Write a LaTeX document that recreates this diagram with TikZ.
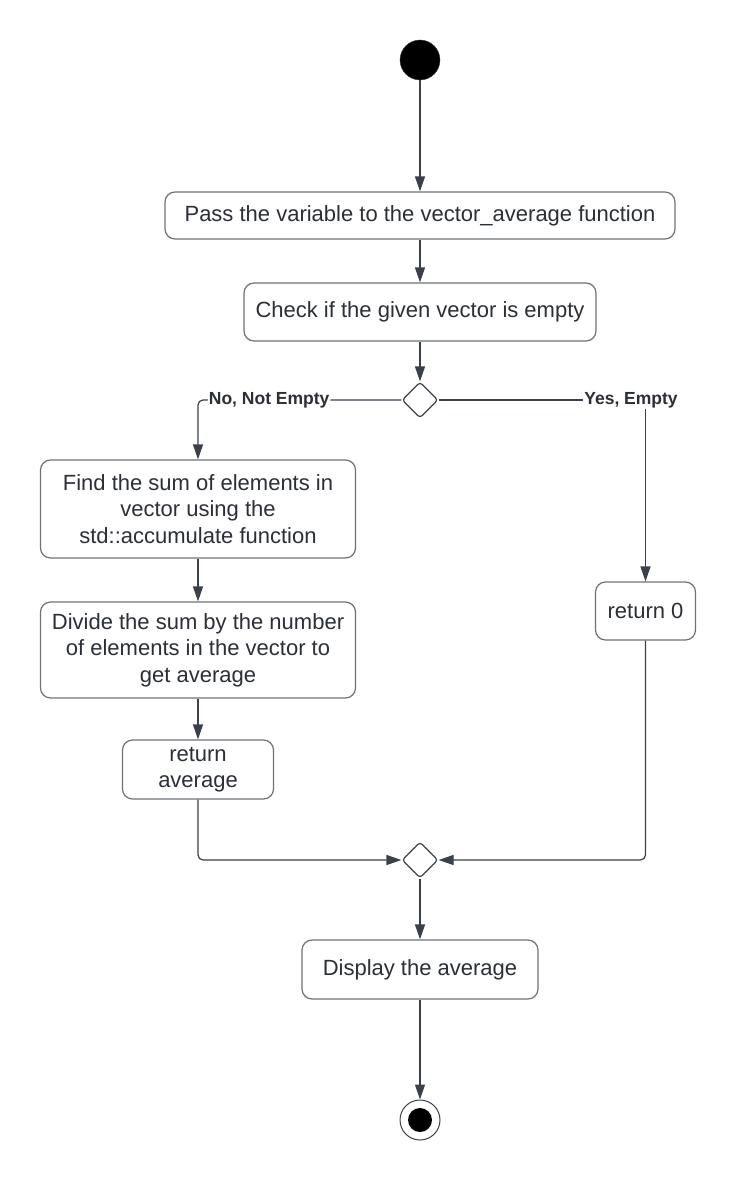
\documentclass[tikz,border=0pt]{standalone}
\usepackage{fontspec}
\setmainfont{Liberation Sans}
\usetikzlibrary{shapes.geometric,arrows.meta}
\definecolor{txt}{HTML}{2B2F36}
\definecolor{edge}{HTML}{6E7278}
\definecolor{wire}{HTML}{3B414A}
\tikzstyle{act} = [draw=edge, line width=1.2pt, rounded corners=10pt, text=txt, align=center, inner sep=0pt, font={\fontsize{22}{26.5}\selectfont}]
\tikzstyle{dec} = [draw=wire, line width=1.2pt, diamond, minimum width=36pt, minimum height=36pt, inner sep=0pt, rounded corners=3pt]
\tikzstyle{flow} = [draw=wire, line width=1.2pt, -{Triangle[length=15pt,width=10pt]}]
\tikzstyle{guard} = [fill=white, text=txt, inner sep=1pt, font={\bfseries\fontsize{17.5}{20}\selectfont}]

\begin{document}
\begin{tikzpicture}[x=1pt,y=-1pt]
    \fill[white] (0,0) rectangle (736,1180);
    \node[circle,fill=black,draw=wire,minimum size=40pt,inner sep=0pt](start) at (420,60){};
    \node[act,minimum width=510pt,minimum height=47pt](pass) at (420,215.5){Pass the variable to the vector\_average function};
    \node[act,minimum width=352pt,minimum height=58pt](check) at (420,312){Check if the given vector is empty};
    \node[dec](split) at (420,400){};
    \node[act,minimum width=315pt,minimum height=98pt](sum) at (198,509){Find the sum of elements in\\vector using the\\std::accumulate function};
    \node[act,minimum width=315pt,minimum height=96pt](divide) at (198,650){Divide the sum by the number\\of elements in the vector to\\get average};
    \node[act,minimum width=151pt,minimum height=59pt](ret) at (198,769.5){return\\average};
    \node[act,minimum width=100pt,minimum height=58pt](zero) at (645.5,611){return 0};
    \node[dec](merge) at (420,860){};
    \node[act,minimum width=236pt,minimum height=59pt](show) at (420,969.5){Display the average};
    \node[circle,draw=wire,line width=1pt,minimum size=40pt,inner sep=0pt](stop) at (420,1120){};
    \node[circle,fill=black,minimum size=24pt,inner sep=0pt](stopdot) at (stop){};
    \draw[flow](start)--(pass);
    \draw[flow](pass)--(check);
    \draw[flow](check)--(split);
    \draw[flow,rounded corners=5pt](split.west)--node[guard,pos=0.65]{No, Not Empty}(sum.north |- split.west)--(sum.north);
    \draw[flow](split.east)--node[guard,pos=0.93]{Yes, Empty}(zero.north |- split.east)--(zero.north);
    \draw[flow](sum)--(divide);
    \draw[flow](divide)--(ret);
    \draw[flow,rounded corners=5pt](ret.south)|-(merge.west);
    \draw[flow,rounded corners=5pt](zero.south)|-(merge.east);
    \draw[flow](merge)--(show);
    \draw[flow](show)--(stop);
  \end{tikzpicture}
\end{document}
